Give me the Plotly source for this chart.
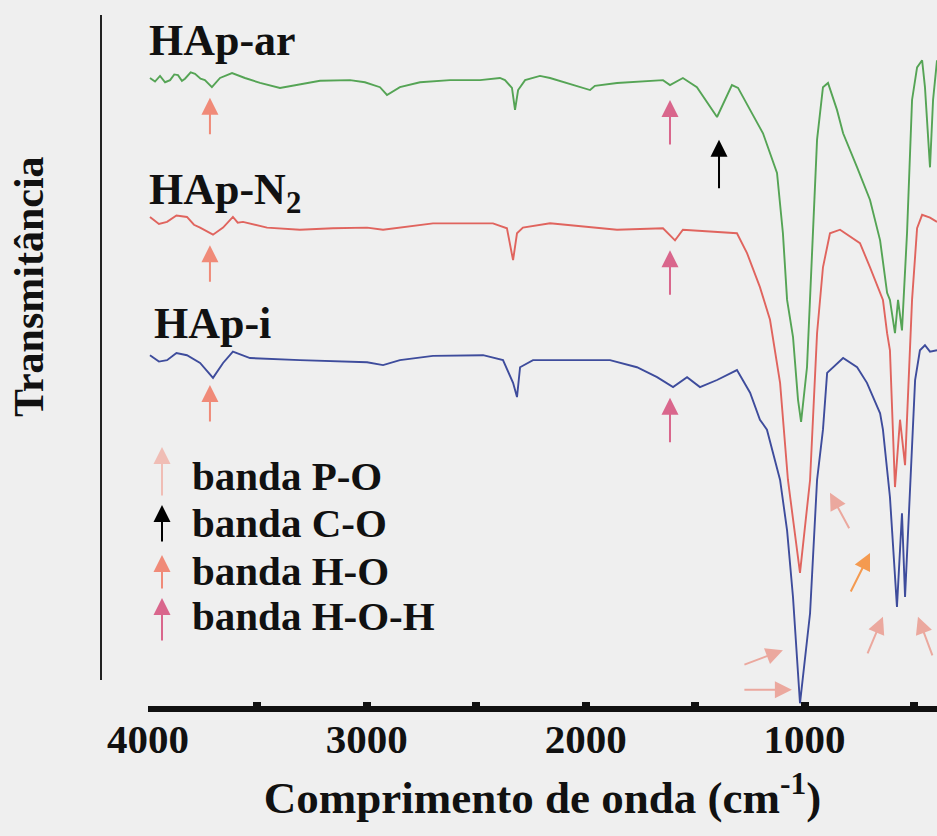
import plotly.graph_objects as go

# FTIR spectra of hydroxyapatite samples (wavenumber in cm-1, offset transmittance)
wn_ar = [3991, 3968, 3945, 3922, 3899, 3880, 3863, 3845, 3831, 3805, 3785, 3760, 3740, 3708,
         3671, 3616, 3557, 3488, 3397, 3328, 3214, 3077, 3009, 2940, 2908, 2849, 2757, 2620,
         2483, 2392, 2369, 2337, 2323, 2309, 2277, 2209, 2163, 1980, 1958, 1857, 1647, 1615,
         1556, 1492, 1400, 1332, 1304, 1249, 1190, 1126, 1099, 1080, 1053, 1030, 1016, 989,
         962, 943, 916, 893, 852, 824, 760, 701, 655, 623, 610, 587, 573, 555, 532, 509, 486,
         463, 450, 427, 413, 395]
t_ar = [89.0, 88.5, 89.3, 88.4, 88.7, 89.5, 89.4, 88.6, 88.9, 89.8, 89.6, 88.9, 88.7, 87.7,
        89.0, 89.7, 89.0, 88.3, 87.6, 88.0, 88.6, 88.7, 88.4, 87.7, 86.6, 87.7, 88.4, 88.7,
        88.7, 89.0, 88.7, 87.6, 84.5, 87.3, 88.7, 89.3, 89.0, 87.3, 87.9, 88.3, 88.7, 88.0,
        89.0, 87.7, 83.5, 88.0, 87.6, 84.5, 81.2, 75.6, 67.1, 57.7, 52.5, 43.6, 40.5, 48.2,
        67.1, 80.3, 87.7, 88.3, 84.5, 81.2, 76.4, 71.8, 66.1, 58.7, 57.7, 53.0, 57.7, 53.4,
        67.1, 85.9, 90.5, 91.5, 87.7, 76.4, 85.9, 91.5]

wn_n2 = [3991, 3950, 3913, 3870, 3822, 3790, 3762, 3703, 3657, 3612, 3590, 3566, 3456, 3306,
         3155, 2999, 2926, 2849, 2698, 2542, 2424, 2360, 2332, 2314, 2287, 2163, 1857, 1647,
         1592, 1556, 1400, 1309, 1263, 1204, 1158, 1112, 1076, 1021, 975, 952, 943, 916, 884,
         838, 792, 747, 701, 642, 623, 610, 587, 564, 541, 509, 486, 463, 427, 395]
t_n2 = [69.4, 68.4, 68.7, 69.6, 69.4, 68.3, 67.9, 66.9, 67.9, 69.4, 68.6, 68.7, 67.9, 67.6,
        67.8, 67.9, 67.6, 67.9, 68.5, 68.5, 68.5, 67.8, 63.3, 67.1, 67.9, 68.5, 67.6, 67.8,
        66.1, 67.6, 67.3, 67.1, 64.3, 59.5, 54.9, 46.0, 32.3, 19.2, 32.3, 46.4, 53.0, 62.3,
        67.1, 67.6, 66.6, 65.7, 62.3, 57.7, 53.0, 50.6, 31.3, 40.8, 34.4, 57.7, 67.8, 69.7,
        69.3, 68.7]

wn_i = [3991, 3950, 3913, 3870, 3822, 3790, 3762, 3703, 3657, 3612, 3534, 3306, 2999, 2926,
        2849, 2698, 2469, 2378, 2332, 2314, 2300, 2241, 2163, 1889, 1766, 1674, 1601, 1537,
        1478, 1400, 1309, 1249, 1204, 1172, 1112, 1080, 1053, 1021, 975, 943, 916, 897, 824,
        760, 715, 655, 642, 610, 578, 555, 541, 518, 495, 473, 450, 427, 395]
t_i = [49.9, 49.0, 49.2, 50.2, 49.9, 49.3, 48.8, 46.7, 48.8, 50.4, 49.5, 49.2, 48.9, 48.5,
       49.2, 49.8, 49.9, 49.2, 46.0, 44.0, 48.2, 49.2, 49.2, 49.2, 48.2, 46.8, 45.4, 46.8,
       45.4, 46.4, 47.8, 44.6, 40.8, 39.4, 32.3, 25.2, 15.8, 0.8, 13.5, 32.3, 39.4, 47.4,
       49.5, 48.2, 46.0, 41.7, 39.4, 29.9, 14.4, 27.6, 15.8, 32.3, 46.4, 50.6, 51.3, 50.4,
       50.6]

sample_names = ["HAp-ar", "HAp-N<sub>2</sub>", "HAp-i"]
line_colors = ["#55A455", "#E0645E", "#3E4C9C"]

# band markers: wavenumber of the band, transmittance at the arrow tip, tail offset (px)
oh_band = 3717
hoh_band = 1615
co_band = 1391
oh_tips = [86.2, 65.4, 45.7]
hoh_tips = [85.9, 64.7, 43.9]
co_tip = 80.3
po_arrows = [(1058, 2.7, -49, 0), (1099, 8.3, -40, 15), (884, 30.5, 20, 37),
             (642, 13.0, -16, 38), (482, 13.0, 15, 40)]
oh_lib_arrow = (701, 22.0, -20, 40)

x_ticks = [4000, 3000, 2000, 1000]
x_ticklabels = ["4000", "3000", "2000", "1000"]

legend_labels = ["banda P-O", "banda C-O", "banda H-O", "banda H-O-H"]

C_PO = "#EBA89E"
C_PO_LEG = "#F0BDB5"
C_CO = "#000000"
C_OH = "#F08A78"
C_OH_LIB = "#F49A50"
C_HOH = "#D9668C"

W, H = 937, 836
L, B, T = 148, 130, 0
PW, PH = W - L, H - B - T
BG = "#EFEFEF"
SERIF = "Liberation Serif, Times New Roman, serif"
INK = "#111111"


def px_x(x):
    return (x - L) / PW


def px_y(y):
    return 1 - (y - T) / PH


fig = go.Figure()
for wn, tr, name, col in zip([wn_ar, wn_n2, wn_i], [t_ar, t_n2, t_i], sample_names, line_colors):
    fig.add_trace(go.Scatter(x=wn, y=tr, mode="lines", name=name,
                             line=dict(color=col, width=1.9), showlegend=False))

ann = []


def arrow(x, y, ax, ay, color, xref="x", yref="y"):
    ann.append(dict(x=x, y=y, xref=xref, yref=yref, ax=ax, ay=ay, text="",
                    showarrow=True, arrowhead=2, arrowsize=1.7, arrowwidth=2.0,
                    arrowcolor=color, standoff=0))


for tip in oh_tips:
    arrow(oh_band, tip, 0, 38, C_OH)
for tip in hoh_tips:
    arrow(hoh_band, tip, 0, 46, C_HOH)
arrow(co_band, co_tip, 0, 50, C_CO)
for wn, tip, dx, dy in po_arrows:
    arrow(wn, tip, dx, dy, C_PO)
arrow(oh_lib_arrow[0], oh_lib_arrow[1], oh_lib_arrow[2], oh_lib_arrow[3], C_OH_LIB)

# sample labels
label_pos = [(147, 40), (147, 192), (152, 323)]
for name, (lx, ly) in zip(sample_names, label_pos):
    ann.append(dict(x=px_x(lx), y=px_y(ly), xref="paper", yref="paper", text=name,
                    showarrow=False, xanchor="left", yanchor="middle",
                    font=dict(family=SERIF, size=44, color=INK, weight="bold")))

# key for the band arrows
leg_y = [476, 523, 571, 616]
leg_heads = [447, 505, 555, 598]
leg_tails = [497, 543, 590, 642]
leg_cols = [C_PO_LEG, C_CO, C_OH, C_HOH]
for lab, ly, hy, ty, col in zip(legend_labels, leg_y, leg_heads, leg_tails, leg_cols):
    arrow(px_x(162), px_y(hy), 0, ty - hy, col, xref="paper", yref="paper")
    ann.append(dict(x=px_x(190), y=px_y(ly), xref="paper", yref="paper", text=lab,
                    showarrow=False, xanchor="left", yanchor="middle",
                    font=dict(family=SERIF, size=41, color=INK, weight="bold")))

# vertical axis title
ann.append(dict(x=px_x(29), y=px_y(287), xref="paper", yref="paper", text="Transmitância",
                showarrow=False, textangle=-90, xanchor="center", yanchor="middle",
                font=dict(family=SERIF, size=42, color=INK, weight="bold")))

fig.update_layout(
    width=W, height=H,
    margin=dict(l=L, r=0, t=T, b=B, pad=0),
    paper_bgcolor=BG, plot_bgcolor=BG,
    annotations=ann,
    shapes=[dict(type="line", xref="paper", yref="paper",
                 x0=px_x(101), x1=px_x(101), y0=px_y(680), y1=px_y(15),
                 line=dict(color="#222222", width=2))],
    xaxis=dict(range=[4000, 395], showgrid=False, zeroline=False,
               showline=True, linecolor=INK, linewidth=6,
               tickmode="array", tickvals=x_ticks, ticktext=x_ticklabels,
               ticks="inside", ticklen=4, tickwidth=8, tickcolor=INK,
               ticklabelstandoff=-8,
               minor=dict(dtick=500, tick0=500, ticks="inside", ticklen=4, tickwidth=8,
                          tickcolor=INK, showgrid=False),
               tickfont=dict(family=SERIF, size=41, color=INK, weight="bold"),
               title=dict(text="Comprimento de onda (cm<sup>-1</sup>)", standoff=22,
                          font=dict(family=SERIF, size=45, color=INK, weight="bold"))),
    yaxis=dict(range=[0.42, 100.0], visible=False, showgrid=False, zeroline=False),
)

fig.write_html("out.html")
